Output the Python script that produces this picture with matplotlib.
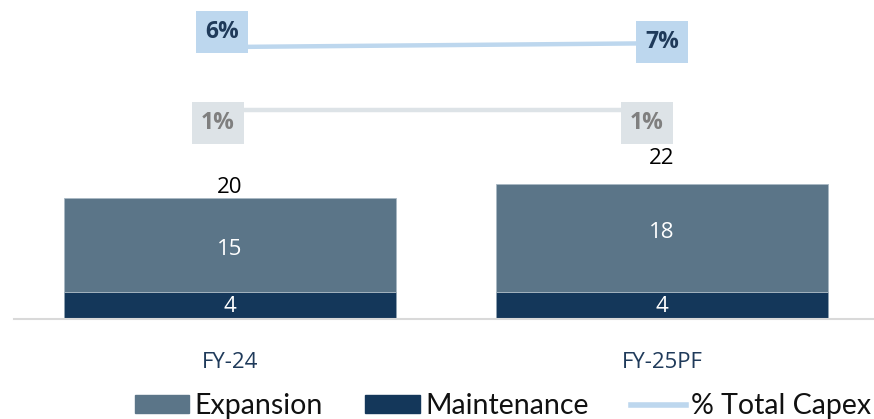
import matplotlib
matplotlib.use("Agg")
import matplotlib.pyplot as plt
from matplotlib.patches import Patch
from matplotlib.lines import Line2D

categories = ["FY-24", "FY-25PF"]
maintenance = [4.4, 4.4]
expansion = [15.4, 17.6]
pct_total_capex = [6.4, 6.7]
pct_maintenance = [1.4, 1.4]
pct_total_labels = ["6%", "7%"]
pct_maint_labels = ["1%", "1%"]

C_EXP = "#5B7588"
C_MAINT = "#14375A"
C_LINE1 = "#BDD7EE"
C_LINE2 = "#DDE3E7"
C_TXT = "#1F3A5A"

W, H = 874, 419
fig = plt.figure(figsize=(W / 100, H / 100), dpi=100)
ax = fig.add_axes([14 / W, 100 / H, 860 / W, 319 / H])
x = list(range(len(categories)))
bw = 0.77

ax.bar(x, maintenance, bw, color=C_MAINT, edgecolor="#8FA3B3", linewidth=0.6, zorder=2)
ax.bar(x, expansion, bw, bottom=maintenance, color=C_EXP, edgecolor="#A9B8C3", linewidth=0.6, zorder=2)

ax.set_xlim(-0.5, 1.4907)
ax.set_ylim(0, 52)
for s in ["top", "right", "left"]:
    ax.spines[s].set_visible(False)
ax.spines["bottom"].set_color("#D9D9D9")
ax.spines["bottom"].set_linewidth(1.5)
ax.set_yticks([])
ax.set_xticks(x)
ax.set_xticklabels(categories, fontsize=16, color=C_TXT, family="Open Sans")
ax.tick_params(axis="x", length=0, pad=24)

lab_font = dict(family="Open Sans", fontsize=16)
maint_dy = [-1, -1]
exp_dy = [-5, 6]
for i in x:
    ax.annotate(f"{maintenance[i]:.0f}", (i, maintenance[i] / 2), xytext=(0, maint_dy[i] * 0.72),
                textcoords="offset points", ha="center", va="center", color="white", **lab_font)
    ax.annotate(f"{expansion[i]:.0f}", (i, maintenance[i] + expansion[i] / 2), xytext=(0, exp_dy[i] * 0.72),
                textcoords="offset points", ha="center", va="center", color="white", **lab_font)

total_pad_px = [10, 26]
for i in x:
    tot = maintenance[i] + expansion[i]
    ax.annotate(f"{tot:.0f}", (i, tot), xytext=(0, total_pad_px[i] * 0.72), textcoords="offset points",
                ha="center", va="center", color="black", **lab_font)

ax2 = ax.twinx()
ax2.set_ylim(-15.19, 10.13)
ax2.axis("off")
ax2.plot(x, pct_total_capex, color=C_LINE1, lw=3.2, solid_capstyle="butt", zorder=2)
ax2.plot(x, pct_maintenance, color=C_LINE2, lw=3.2, solid_capstyle="butt", zorder=2)

off_total = [(-8, 15), (0, 1)]
off_maint = [(-12, -13), (-15, -13)]
for i in x:
    ax2.annotate(pct_total_labels[i], (i, pct_total_capex[i]),
                 xytext=(off_total[i][0] * 0.72, off_total[i][1] * 0.72), textcoords="offset points",
                 ha="center", va="center", color=C_TXT, fontsize=16.5, fontweight="bold", family="Open Sans",
                 bbox=dict(boxstyle="square,pad=0.4", fc=C_LINE1, ec="none"), zorder=5)
    ax2.annotate(pct_maint_labels[i], (i, pct_maintenance[i]),
                 xytext=(off_maint[i][0] * 0.72, off_maint[i][1] * 0.72), textcoords="offset points",
                 ha="center", va="center", color="#7F7F7F", fontsize=16.5, fontweight="bold", family="Open Sans",
                 bbox=dict(boxstyle="square,pad=0.4", fc=C_LINE2, ec="none"), zorder=5)

handles = [Patch(color=C_EXP), Patch(color=C_MAINT), Line2D([0], [0], color=C_LINE1, lw=4)]
leg = fig.legend(handles, ["Expansion", "Maintenance", "% Total Capex"], loc="center",
                 bbox_to_anchor=(503 / W, 1 - 406 / H), ncol=3, frameon=False,
                 prop=dict(family="Lato", size=20.5), handlelength=1.9, handleheight=0.55,
                 handletextpad=0.2, columnspacing=1.5, borderpad=0)
for t in leg.get_texts():
    t.set_color("#111111")

fig.savefig("out.png", dpi=100)
